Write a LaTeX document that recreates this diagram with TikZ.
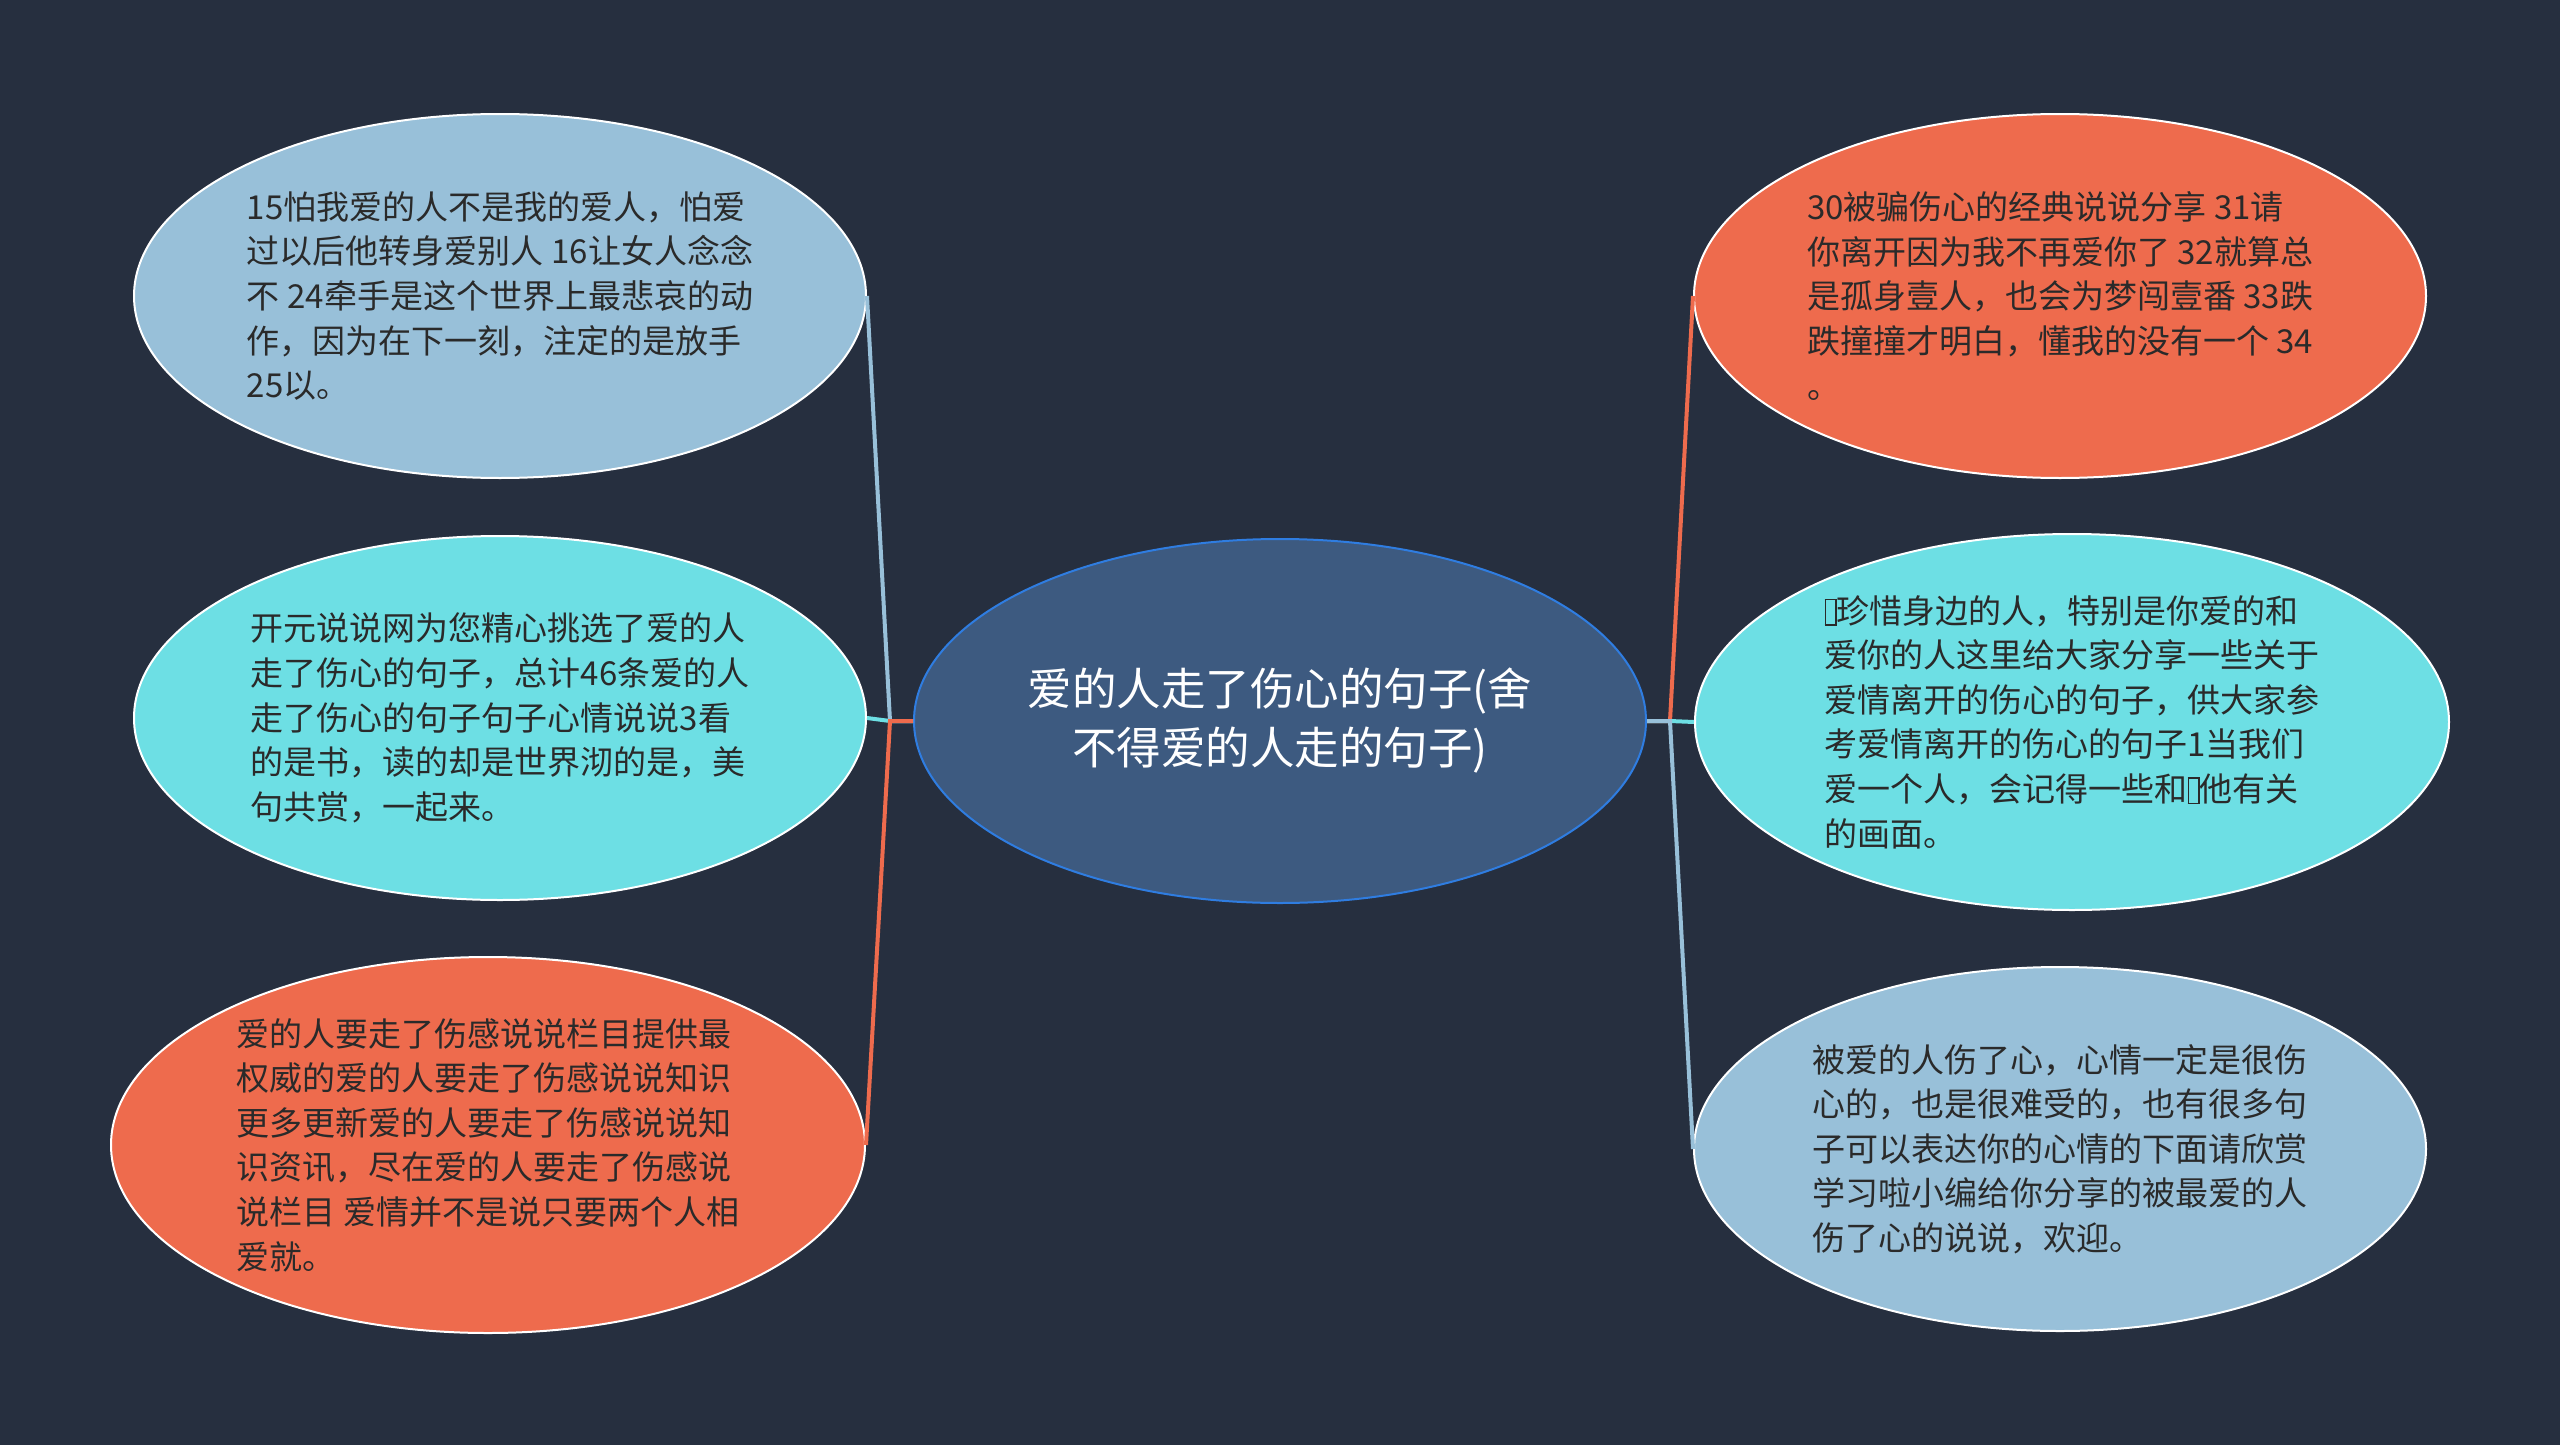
\documentclass[tikz,border=0pt]{standalone}
\usepackage{fontspec}
\setmainfont{Noto Sans CJK SC}
\usetikzlibrary{shapes.geometric}
\definecolor{bg}{HTML}{262F3F}
\definecolor{cfill}{HTML}{3D5A80}
\definecolor{cborder}{HTML}{2F7DE1}
\definecolor{lblue}{HTML}{98C0D9}
\definecolor{lcyan}{HTML}{6DDFE4}
\definecolor{lorange}{HTML}{EE6B4D}
\definecolor{txt}{HTML}{2A2A2A}
\newcommand\tofubox{\raisebox{-1pt}{\setlength{\fboxsep}{0pt}\setlength{\fboxrule}{1.6pt}\fbox{\rule{0pt}{24pt}\hspace{9pt}}}}
\begin{document}
\begin{tikzpicture}[x=1pt,y=-1pt,
  leaf/.style={ellipse, draw=white, line width=2pt, inner sep=0pt,
    minimum width=732pt, minimum height=364pt, align=left, text=txt,
    font=\fontsize{33}{44.6}\selectfont},
  bigleaf/.style={leaf, minimum width=754pt, minimum height=376pt},
  center/.style={ellipse, draw=cborder, fill=cfill, line width=2pt, inner sep=0pt,
    minimum width=732pt, minimum height=364pt, align=center, text=white,
    font=\fontsize{44.5}{59}\selectfont},
  conn/.style={line width=4pt}]
\fill[bg] (0,0) rectangle (2560,1445);
\useasboundingbox (0,0) rectangle (2560,1445);

\node[center] (c) at (1280,721) {爱的人走了伤心的句子(舍\\不得爱的人走的句子)};

\node[leaf, fill=lblue] (lt) at (500,296) {15怕我爱的人不是我的爱人，怕爱\\过以后他转身爱别人 16让女人念念\\不 24牵手是这个世界上最悲哀的动\\作，因为在下一刻，注定的是放手\\25以。};
\node[leaf, fill=lcyan] (lm) at (500,718) {开元说说网为您精心挑选了爱的人\\走了伤心的句子，总计46条爱的人\\走了伤心的句子句子心情说说3看\\的是书，读的却是世界沏的是，美\\句共赏，一起来。};
\node[bigleaf, fill=lorange] (lb) at (488,1145) {爱的人要走了伤感说说栏目提供最\\权威的爱的人要走了伤感说说知识\\更多更新爱的人要走了伤感说说知\\识资讯，尽在爱的人要走了伤感说\\说栏目 爱情并不是说只要两个人相\\爱就。};

\node[leaf, fill=lorange] (rt) at (2060,296) {30被骗伤心的经典说说分享 31请\\你离开因为我不再爱你了 32就算总\\是孤身壹人，也会为梦闯壹番 33跌\\跌撞撞才明白，懂我的没有一个 34\\。};
\node[bigleaf, fill=lcyan] (rm) at (2072,722) {\tofubox 珍惜身边的人，特别是你爱的和\\爱你的人这里给大家分享一些关于\\爱情离开的伤心的句子，供大家参\\考爱情离开的伤心的句子1当我们\\爱一个人，会记得一些和\tofubox 他有关\\的画面。};
\node[leaf, fill=lblue] (rb) at (2060,1149) {被爱的人伤了心，心情一定是很伤\\心的，也是很难受的，也有很多句\\子可以表达你的心情的下面请欣赏\\学习啦小编给你分享的被最爱的人\\伤了心的说说，欢迎。};

\coordinate (jl) at (890,721);
\coordinate (jr) at (1670,721);

\draw[conn, lblue] (c.west) -- (jl) -- (lt.east);
\draw[conn, lcyan] (c.west) -- (jl) -- (lm.east);
\draw[conn, lorange] (c.west) -- (jl) -- (lb.east);
\draw[conn, lorange] (c.east) -- (jr) -- (rt.west);
\draw[conn, lcyan] (c.east) -- (jr) -- (rm.west);
\draw[conn, lblue] (c.east) -- (jr) -- (rb.west);
\end{tikzpicture}
\end{document}
